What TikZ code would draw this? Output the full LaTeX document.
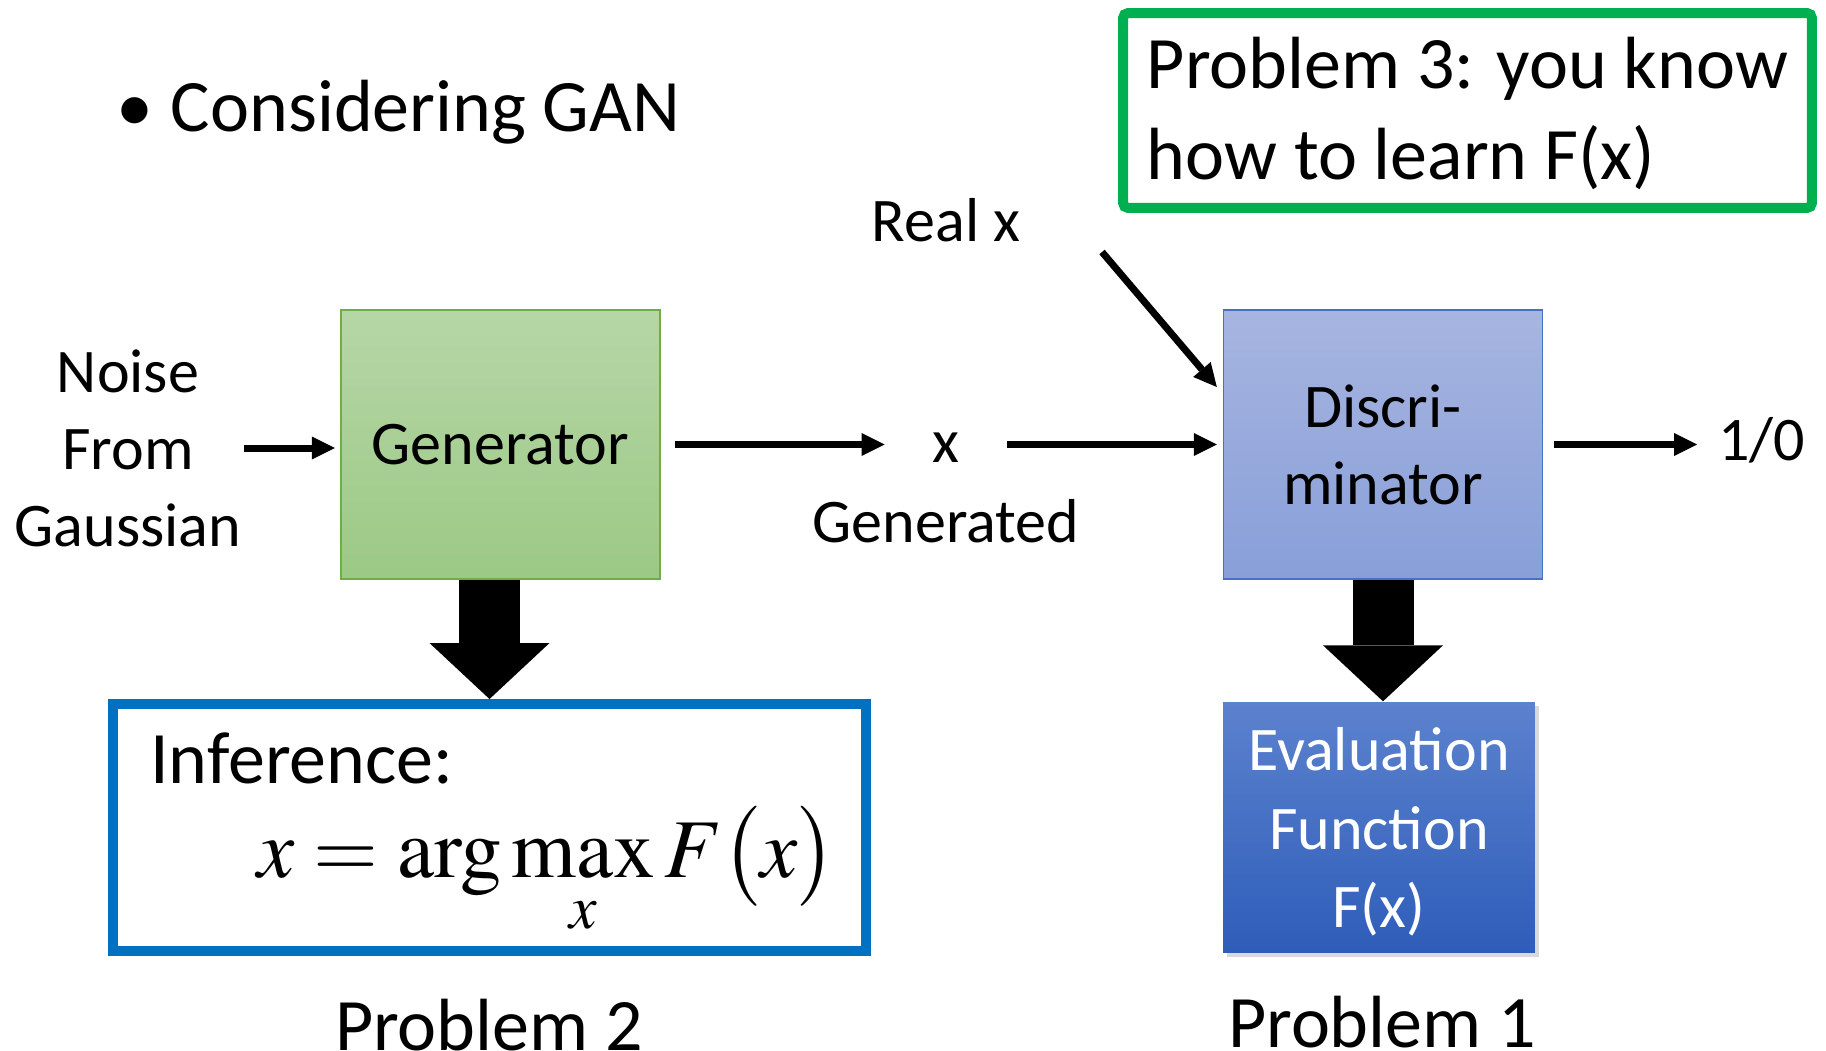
\documentclass[tikz,border=0pt]{standalone}
\usepackage{mathptmx}
\usepackage[no-math]{fontspec}
\setmainfont{Carlito}
\usetikzlibrary{positioning,arrows.meta,shadows}

\definecolor{genTop}{RGB}{182,214,167}
\definecolor{genBot}{RGB}{156,201,133}
\definecolor{genLine}{RGB}{112,173,71}
\definecolor{discTop}{RGB}{167,181,224}
\definecolor{discBot}{RGB}{136,159,217}
\definecolor{discLine}{RGB}{68,114,196}
\definecolor{evalTop}{RGB}{92,130,206}
\definecolor{evalBot}{RGB}{46,93,185}
\definecolor{inferBlue}{RGB}{0,112,192}
\definecolor{probGreen}{RGB}{0,176,80}

\tikzset{
  lblfont/.style={font=\fontsize{35.3}{43.8}\selectfont},
  bigfont/.style={font=\fontsize{42.1}{51.8}\selectfont},
  lbl/.style={lblfont, inner sep=0pt, align=center},
  box/.style={
    draw, lblfont, align=center, line width=0.8pt,
    minimum width=6.38cm, minimum height=5.38cm,
  },
  genbox/.style={box, draw=genLine, top color=genTop, bottom color=genBot},
  discbox/.style={box, draw=discLine, top color=discTop, bottom color=discBot},
  evalbox/.style={box, draw=none, text=white, top color=evalTop, bottom color=evalBot,
    font=\fontsize{35.3}{44.5}\selectfont,
    minimum width=6.24cm, minimum height=5.02cm,
    drop shadow={shadow xshift=0.08cm, shadow yshift=-0.08cm, opacity=0.3}},
  frame/.style={draw, line width=0.2cm},
  flow/.style={line width=0.14cm, -{Triangle[length=0.46cm,width=0.46cm,line width=0pt]}},
  bigarrow/.style={line width=1.22cm, -{Triangle[length=1.12cm,width=2.4cm,line width=0pt]}},
}

\begin{document}
\begin{tikzpicture}[x=0.02cm, y=-0.02cm]
\useasboundingbox (0,0) rectangle (1826,1051);

% ---- heading and problem 3 ------------------------------------------------
\node[bigfont, anchor=base west, inner sep=0pt] (title) at (116,132) {\textbullet\hspace{0.24em}Considering GAN};
\node[frame, draw=probGreen, rounded corners=0.1cm, bigfont, align=left,
      minimum width=13.78cm, minimum height=3.9cm] (prob3) at (1467.5,110.5)
      {Problem 3: you know\\\raisebox{0pt}[\height][0.4\depth]{how to learn F(x)}};

% ---- main chain -----------------------------------------------------------
\node[lbl] (noise) at (128,448) {Noise\\From\\Gaussian};
\node[genbox] (gen) at (500.5,444.5) {Generator};
\node[lbl, anchor=base, minimum width=2.44cm] (gx) at (946,462) {x};
\node[lbl, anchor=base] (genlbl) at (946,542) {Generated};
\node[lbl, anchor=base] (real) at (946,241) {Real x};
\node[discbox] (disc) at (1383,444.5) {Discri-\\minator};
\node[lbl, anchor=base west] (out) at (1718,460) {1/0};
\coordinate (realtail) at (1102,252);

\draw[flow, shorten <=0.05cm, shorten >=0.11cm] (noise.east) -- (noise.east -| gen.west);
\draw[flow, shorten <=0.28cm] (gen.east) -- (gen.east -| gx.west);
\draw[flow, shorten >=0.12cm] (gx.east |- disc.west) -- (disc.west);
\draw[flow, shorten <=0.22cm, shorten >=0.42cm] (disc.east) -- (disc.east -| out.west);
\draw[flow] (realtail) -- ([xshift=-0.12cm, yshift=1.15cm]disc.west);

% ---- problems 2 and 1 -----------------------------------------------------
\node[frame, draw=inferBlue, minimum width=15.06cm, minimum height=4.94cm] (infer) at (489.5,827.5) {};
\node[bigfont, anchor=base west, inner sep=0pt] (inflbl) at (150,783) {Inference:};
\node[inner sep=0pt, font=\fontsize{47.5}{50}\selectfont] (argmax) at (547,872)
      {$\displaystyle x=\arg\max_x F\bigl(x\bigr)$};
\node[evalbox] (eval) at (1379,827.5) {Evaluation\\Function\\\raisebox{0pt}[\height][0pt]{F(x)}};

\draw[bigarrow] (infer.north |- gen.south) -- (infer.north);
\draw[bigarrow] (disc.south) -- (disc.south |- eval.north);

\node[bigfont, anchor=base, inner sep=0pt] (p2) at (489,1050) {Problem 2};
\node[bigfont, anchor=base, inner sep=0pt] (p1) at (1382,1047) {Problem 1};

\end{tikzpicture}
\end{document}
